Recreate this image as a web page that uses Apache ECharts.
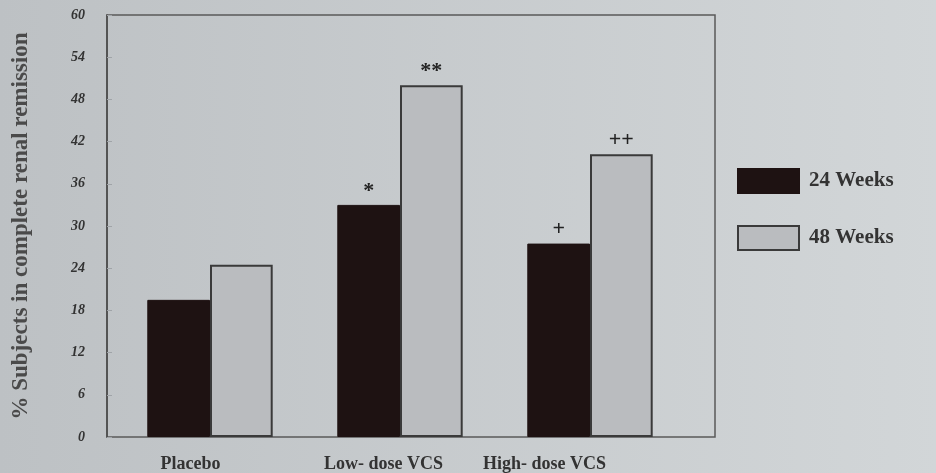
<!DOCTYPE html>
<html>
<head>
<meta charset="utf-8">
<script src="https://cdn.jsdelivr.net/npm/echarts@6/dist/echarts.min.js"></script>
<style>html,body{margin:0;padding:0;}#c{width:936px;height:473px;}</style>
</head>
<body>
<div id="c"></div>
<script>
const categories = ['Placebo', 'Low- dose VCS', 'High- dose VCS'];
const weeks24 = [19.5, 33, 27.5];
const weeks48 = [24.5, 50, 40.2];
const marks24 = ['', '*', '+'];
const marks48 = ['', '**', '++'];
const yTicks = { min: 0, max: 60, interval: 6 };
const yTitle = '% Subjects in complete renal remission';
const seriesNames = ['24 Weeks', '48 Weeks'];

const chart = echarts.init(document.getElementById('c'), null, { renderer: 'canvas' });
const serif = 'Liberation Serif, DejaVu Serif, serif';
const markLabel = (arr) => ({
  show: true, position: 'top', distance: 3,
  formatter: (p) => arr[p.dataIndex],
  fontFamily: serif, fontWeight: 'bold', fontSize: 22, color: '#222'
});
const labelCats = categories.map((c, i) => i === 1 ? { value: c, textStyle: { padding: [0, 0, 0, 32] } } : c);
chart.setOption({
  animation: false,
  backgroundColor: new echarts.graphic.LinearGradient(0, 0, 1, 0, [
    { offset: 0, color: '#bdc1c4' }, { offset: 1, color: '#d2d6d8' }
  ]),
  legend: {
    orient: 'vertical', left: 732, top: 163, itemWidth: 61, itemHeight: 24, itemGap: 31,
    icon: 'rect', data: seriesNames,
    textStyle: { fontFamily: serif, fontWeight: 'bold', fontSize: 21, color: '#333', padding: [0, 0, 0, 5] }
  },
  grid: [
    { left: 107, right: 221, top: 15, bottom: 36, show: true, borderColor: '#5a5a5a', borderWidth: 1.5, backgroundColor: 'rgba(0,0,0,0)' },
    { left: 115, right: 251, top: 15, bottom: 36 },
    { left: 102, right: 303, top: 15, bottom: 36 }
  ],
  xAxis: [
    { gridIndex: 0, type: 'category', data: categories, show: false },
    { gridIndex: 1, type: 'category', data: categories, show: false },
    { gridIndex: 2, type: 'category', data: labelCats,
      axisLine: { show: false }, axisTick: { show: false },
      axisLabel: { margin: 19, fontFamily: serif, fontWeight: 'bold', fontSize: 18, color: '#333' } }
  ],
  yAxis: [
    { gridIndex: 0, type: 'value', min: yTicks.min, max: yTicks.max, interval: yTicks.interval,
      name: yTitle, nameLocation: 'middle', nameGap: 74, nameRotate: 90,
      nameTextStyle: { fontFamily: serif, fontSize: 23, fontWeight: 'bold', color: '#4a4a4a' },
      axisLine: { show: true, lineStyle: { color: '#4a4a4a', width: 1.5 } },
      axisTick: { show: true, inside: true, length: 5, lineStyle: { color: '#a0a4a8' } },
      splitLine: { show: false },
      axisLabel: { margin: 22, fontFamily: serif, fontWeight: 'bold', fontStyle: 'italic', fontSize: 14, color: '#333' } },
    { gridIndex: 1, type: 'value', min: yTicks.min, max: yTicks.max, show: false, splitLine: { show: false } },
    { gridIndex: 2, type: 'value', min: yTicks.min, max: yTicks.max, show: false, splitLine: { show: false } }
  ],
  series: [
    { name: seriesNames[0], type: 'bar', xAxisIndex: 1, yAxisIndex: 1, data: weeks24,
      barGap: '0%', barCategoryGap: '34%',
      itemStyle: { color: '#1e1212', borderColor: '#1e1212', borderWidth: 1 },
      label: markLabel(marks24) },
    { name: seriesNames[1], type: 'bar', xAxisIndex: 1, yAxisIndex: 1, data: weeks48,
      barGap: '0%', barCategoryGap: '34%',
      itemStyle: { color: '#babcbf', borderColor: '#3a3a3a', borderWidth: 2 },
      label: markLabel(marks48) }
  ]
});
</script>
</body>
</html>
